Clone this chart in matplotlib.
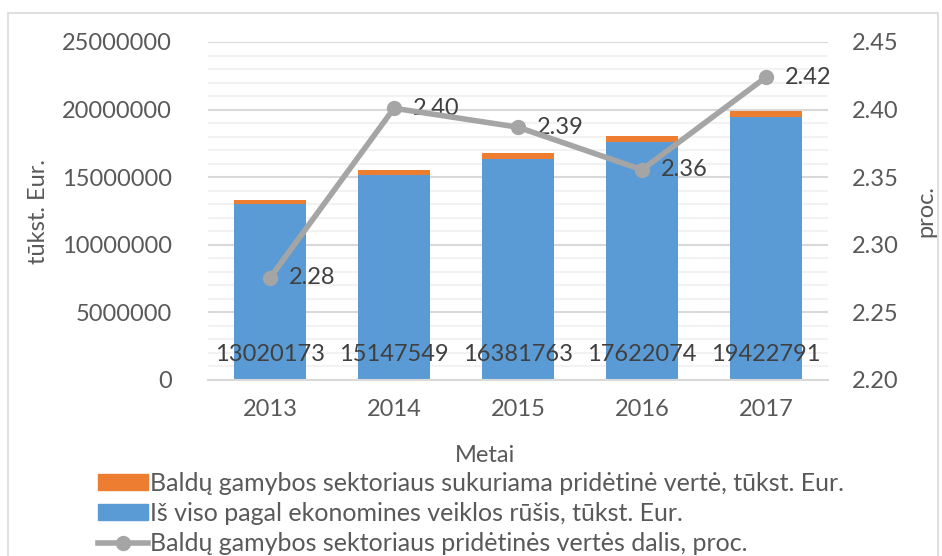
import numpy as np
import matplotlib
matplotlib.use("Agg")
import matplotlib.pyplot as plt
from matplotlib.patches import Rectangle, Patch
from matplotlib.lines import Line2D
from matplotlib.ticker import MultipleLocator, FormatStrFormatter

plt.rcParams.update({"font.family": ["Lato", "DejaVu Sans"], "font.size": 17})

years = ["2013", "2014", "2015", "2016", "2017"]
total = [13020173, 15147549, 16381763, 17622074, 19422791]
furniture = [296000, 364000, 392000, 416000, 470000]
share = [2.2755, 2.401, 2.387, 2.3555, 2.424]

name_furn = "Baldų gamybos sektoriaus sukuriama pridėtinė vertė, tūkst. Eur."
name_total = "Iš viso pagal ekonomines veiklos rūšis, tūkst. Eur."
name_share = "Baldų gamybos sektoriaus pridėtinės vertės dalis, proc."

blue = "#5B9BD5"
orange = "#ED7D31"
grey = "#A5A5A5"
txt = "#595959"

fig = plt.figure(figsize=(9.42, 5.56), dpi=100)
fig.patches.append(Rectangle((8 / 942, -0.1), 930 / 942, 1.1 - 13 / 556, transform=fig.transFigure,
                             fill=False, edgecolor="#d9d9d9", linewidth=1.2))

ax = fig.add_axes([208 / 942, 1 - 380 / 556, 620 / 942, 338 / 556])
x = np.arange(len(years))
ax.bar(x, total, width=0.58, color=blue, zorder=2)
ax.bar(x, furniture, bottom=total, width=0.58, color=orange, zorder=2)
for xi, v in zip(x, total):
    ax.text(xi, 1.9e6, str(v), ha="center", va="center", color="#404040", fontsize=17, zorder=3)

ax.set_xlim(-0.5, 4.5)
ax.set_ylim(0, 25000000)
ax.yaxis.set_major_locator(MultipleLocator(5000000))
ax.yaxis.set_minor_locator(MultipleLocator(1000000))
ax.yaxis.set_major_formatter(FormatStrFormatter("%d"))
ax.grid(axis="y", which="major", color="#d9d9d9", linewidth=1.5, zorder=0)
ax.grid(axis="y", which="minor", color="#f2f2f2", linewidth=1.5, zorder=0)
ax.set_axisbelow(True)
ax.set_xticks(x)
ax.set_xticklabels(years)
ax.tick_params(axis="both", which="both", length=0, colors=txt, labelsize=17)
ax.tick_params(axis="x", pad=14)
ax.tick_params(axis="y", pad=26)
for s in ["top", "left", "right"]:
    ax.spines[s].set_visible(False)
ax.spines["bottom"].set_color("#d9d9d9")
ax.spines["bottom"].set_linewidth(1.5)
ax.set_ylabel("tūkst. Eur.", color=txt, fontsize=17, labelpad=9)

ax2 = ax.twinx()
ax2.plot(x, share, color=grey, linewidth=4, marker="o", markersize=10, zorder=4)
for xi, v in zip(x, share):
    ax2.text(xi + 0.15, v, f"{v:.2f}", ha="left", va="center", color="#404040", fontsize=17)
ax2.set_ylim(2.20, 2.45)
ax2.yaxis.set_major_locator(MultipleLocator(0.05))
ax2.yaxis.set_major_formatter(FormatStrFormatter("%.2f"))
ax2.tick_params(axis="y", length=0, colors=txt, labelsize=17, pad=17)
for s in ax2.spines.values():
    s.set_visible(False)
ax2.set_ylabel("proc.", color=txt, fontsize=17, rotation=90, labelpad=12)

fig.text(485 / 942, 1 - 455 / 556, "Metai", ha="center", va="center", color=txt, fontsize=17)

handles = [Patch(color=orange), Patch(color=blue),
           Line2D([0], [0], color=grey, linewidth=4, marker="o", markersize=10)]
fig.legend(handles, [name_furn, name_total, name_share], loc="upper left",
           bbox_to_anchor=(98 / 942, 1 - 472 / 556), frameon=False, fontsize=18,
           handlelength=2.0, handleheight=0.6, handletextpad=0.1, labelspacing=0.28,
           labelcolor=txt, borderpad=0, borderaxespad=0)

fig.savefig("out.png", dpi=100)
